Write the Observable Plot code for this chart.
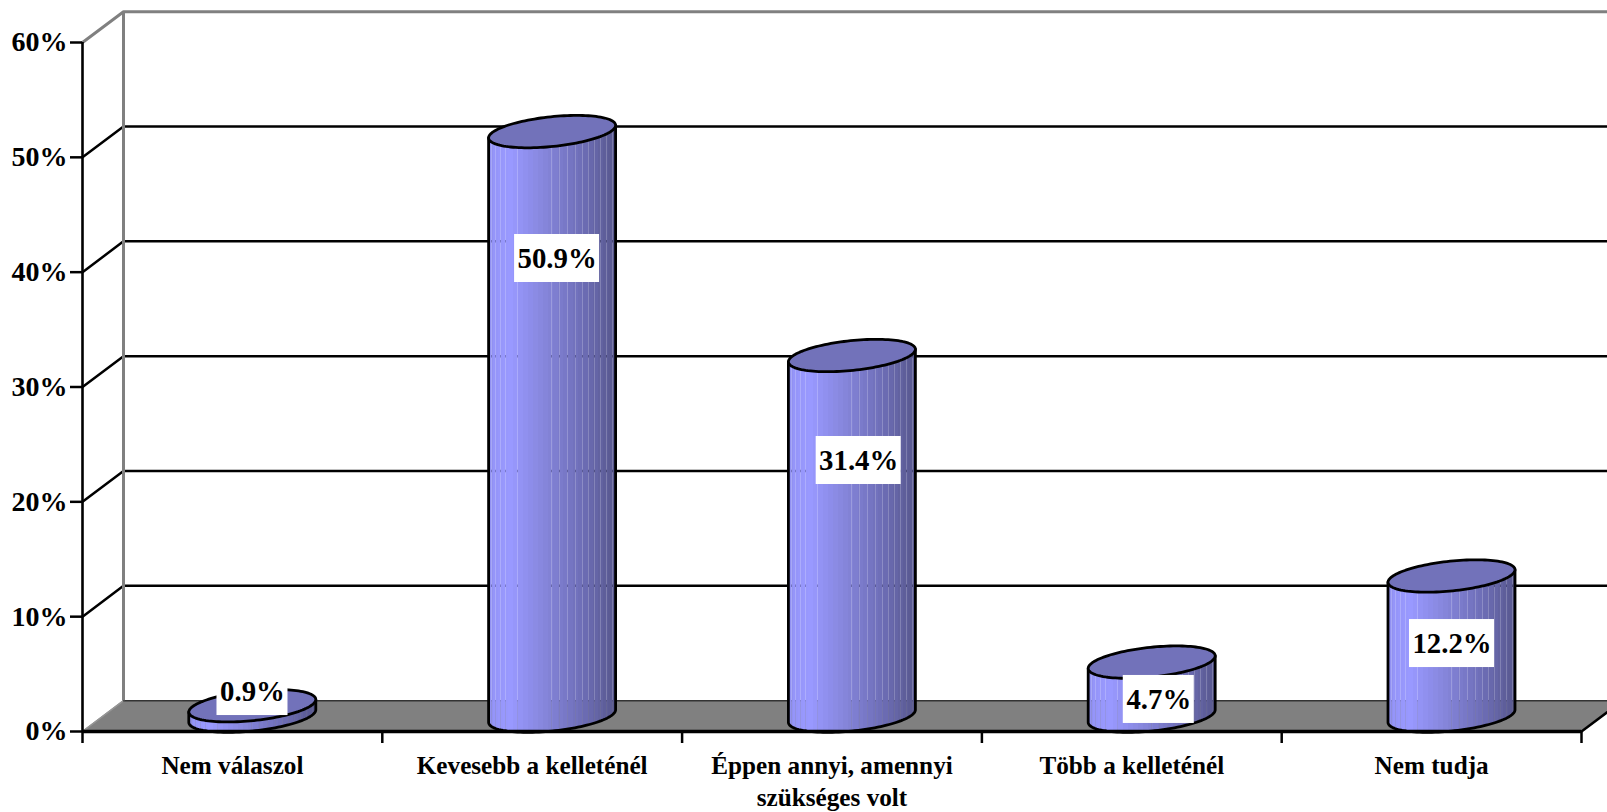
<!DOCTYPE html>
<html>
<head>
<meta charset="utf-8">
<script src="https://cdn.jsdelivr.net/npm/d3@7"></script>
<script src="https://cdn.jsdelivr.net/npm/@observablehq/plot@0.6"></script>
<style>
html,body{margin:0;padding:0;background:#fff;overflow:hidden}
svg{display:block;overflow:hidden}
</style>
</head>
<body>
<script>
const categories = ["Nem válaszol", "Kevesebb a kelleténél", "Éppen annyi, amennyi\nszükséges volt", "Több a kelleténél", "Nem tudja"];
const values = [0.9, 50.9, 31.4, 4.7, 12.2];
const labels = ["0.9%", "50.9%", "31.4%", "4.7%", "12.2%"];
const labelX = [0.567, 1.583, 2.589, 3.590, 4.568];
const labelY = [3.48, 41.19, 23.6, 2.79, 7.66];
const yTicks = [0, 10, 20, 30, 40, 50, 60];
const xTicks = [0, 1, 2, 3, 4, 5];
const seams = [3, 7, 12, 17, 29, 63, 71, 79, 87, 94, 100, 106, 112, 118, 124];

const W = 1607, H = 812, mL = 82, mR = 26, mT = 42, mB = 81;
const ux = (W - mL - mR) / 5, uy = (H - mT - mB) / 60;
const depthX = 41 / ux, depthY = 30.8 / uy;
const R = 63.5 / ux, sinPhi = 0.387, phi = Math.asin(sinPhi), oy = 16.2 / uy;
const barPx = 127;

const centers = categories.map((_, i) => i + 0.5 + (depthX - 1.2 / ux) / 2);
const lowerArc = (rel) => oy * Math.sin(phi - Math.acos(Math.max(-1, Math.min(1, rel / R))));
const shade = d3.scaleLinear([0, 8, 22, 55, 90, 127], ["#8F8FEF", "#9696FA", "#9999FF", "#8686DC", "#7070BA", "#58588E"]);

const solid = [], seam = [], outline = [], tops = [];
values.forEach((v, i) => {
  const cx = centers[i];
  for (let k = 0; k < barPx; k++) {
    const target = seams.includes(k) ? seam : solid;
    const fill = d3.color(shade(Math.floor(k / 5) * 5 + 2)).formatHex();
    for (const e of [k, k + 1]) {
      const rel = -R + e / ux;
      const a = lowerArc(rel) + depthY / 2;
      target.push({id: i + "-" + k, x: cx + rel, y1: a, y2: a + v, fill});
    }
  }
  const topC = v + depthY / 2, botC = depthY / 2;
  const ext = (c, th) => ({bar: i, x: cx + R * Math.cos(th - phi), y: c + oy * Math.sin(th)});
  outline.push(ext(topC, phi));
  for (let t = 0; t <= 60; t++) outline.push(ext(botC, phi - Math.PI * t / 60));
  outline.push(ext(topC, phi - Math.PI));
  for (let t = 0; t <= 120; t++) {
    const th = 2 * Math.PI * t / 120;
    tops.push({bar: i, x: cx + R * Math.cos(th - phi), y: topC + oy * Math.sin(th)});
  }
});

const grid = yTicks.flatMap((v) => [
  {v, x: 0, y: v},
  {v, x: depthX, y: v + depthY},
  {v, x: 5 + depthX, y: v + depthY}
]);
const floor = [
  {y: 0, x1: 0, x2: 5},
  {y: depthY, x1: depthX, x2: 5 + depthX}
];
const labelRows = labels.map((text, i) => {
  const hw = (text.length > 4 ? 42.5 : 35.5) / ux, hh = 24 / uy;
  return {text, x: labelX[i], y: labelY[i], x1: labelX[i] - hw, x2: labelX[i] + hw, y1: labelY[i] - hh, y2: labelY[i] + hh};
});
const serif = "Liberation Serif";

const chart = Plot.plot({
  width: W, height: H,
  marginLeft: mL, marginRight: mR, marginTop: mT, marginBottom: mB,
  x: {domain: [0, 5], axis: null},
  y: {domain: [0, 60], axis: null},
  color: {type: "identity"},
  style: {background: "#fff", overflow: "hidden"},
  marks: [
    Plot.areaX(floor, {y: "y", x1: "x1", x2: "x2", fill: "#808080", curve: "linear"}),
    Plot.line(grid.filter(d => d.v > 0 && d.v < 60), {x: "x", y: "y", z: "v", stroke: "#000", strokeWidth: 2.5}),
    Plot.line(grid.filter(d => d.v === 60), {x: "x", y: "y", z: "v", stroke: "#808080", strokeWidth: 3}),
    Plot.line(grid.filter(d => d.v === 0).slice(0, 2), {x: "x", y: "y", stroke: "#969696", strokeWidth: 1.5}),
    Plot.line(grid.filter(d => d.v === 0).slice(1), {x: "x", y: "y", stroke: "#333", strokeWidth: 1.5}),
    Plot.ruleX([depthX], {y1: depthY, y2: 60 + depthY, stroke: "#808080", strokeWidth: 3}),
    Plot.line([{x: 5, y: 0}, {x: 5 + depthX, y: depthY}], {x: "x", y: "y", stroke: "#000", strokeWidth: 2.5}),
    Plot.ruleX([0], {y1: 0, y2: 60, stroke: "#000", strokeWidth: 2.6}),
    Plot.axisY({ticks: yTicks, tickFormat: d => d + "%", tickSize: 12, tickPadding: 3, label: null, stroke: "#000", strokeWidth: 2.5, fill: "#000", fontFamily: serif, fontWeight: "bold", fontSize: 28}),
    Plot.axisX({ticks: xTicks, tickFormat: () => "", tickSize: 12, label: null, stroke: "#000", strokeWidth: 2.5}),
    Plot.axisX({ticks: categories.map((_, i) => i + 0.5), tickFormat: d => categories[d - 0.5], tickSize: 0, tickPadding: 20, label: null, fill: "#000", fontFamily: serif, fontWeight: "bold", fontSize: 25.2, lineHeight: 1.26}),
    Plot.areaY(solid, {x: "x", y1: "y1", y2: "y2", z: "id", fill: "fill", curve: "linear", shapeRendering: "crispEdges"}),
    Plot.areaY(seam, {x: "x", y1: "y1", y2: "y2", z: "id", fill: "fill", fillOpacity: 0.8, curve: "linear", shapeRendering: "crispEdges"}),
    Plot.line(outline, {x: "x", y: "y", z: "bar", stroke: "#000", strokeWidth: 2.8, curve: "linear"}),
    Plot.line(tops, {x: "x", y: "y", z: "bar", fill: "#7272BA", stroke: "#000", strokeWidth: 2.8, curve: "linear"}),
    Plot.ruleY([0], {x1: 0, x2: 5, stroke: "#000", strokeWidth: 3.5}),
    Plot.rect(labelRows, {x1: "x1", x2: "x2", y1: "y1", y2: "y2", fill: "#fff"}),
    Plot.text(labelRows, {x: "x", y: "y", text: "text", dy: 0, fill: "#000", fontFamily: serif, fontWeight: "bold", fontSize: 28.8})
  ]
});
document.body.appendChild(chart);
</script>
</body>
</html>
